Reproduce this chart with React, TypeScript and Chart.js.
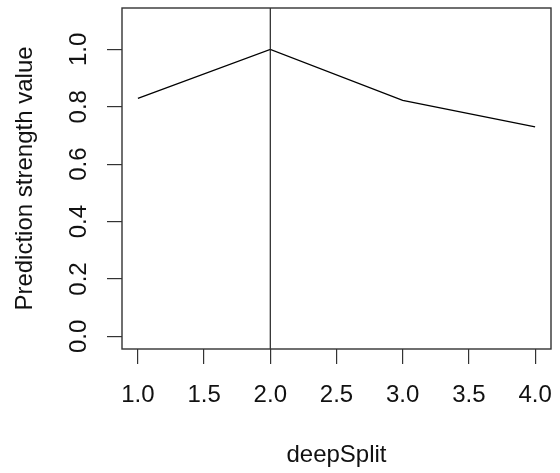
import React, { useEffect, useRef } from "react";
import { Chart, registerables } from "chart.js";

Chart.register(...registerables);

const xValues = [1, 2, 3, 4];
const strengthValues = [0.829, 1.0, 0.822, 0.73];
const xTicks = [1.0, 1.5, 2.0, 2.5, 3.0, 3.5, 4.0];
const yTicks = [0.0, 0.2, 0.4, 0.6, 0.8, 1.0];
const vlineX = 2;
const xTitle = "deepSplit";
const yTitle = "Prediction strength value";

const FONT = '24px "Liberation Sans", Arial, sans-serif';
const AXIS_COLOR = "#333333";

const overlayPlugin = {
  id: "rOverlay",
  afterDraw(chart: any) {
    const { ctx, chartArea } = chart;
    const xs = chart.scales.x;
    const ys = chart.scales.y;
    ctx.save();
    // vertical reference line
    const vx = xs.getPixelForValue(vlineX);
    ctx.strokeStyle = "#222222";
    ctx.lineWidth = 1.2;
    ctx.beginPath();
    ctx.moveTo(vx, chartArea.top);
    ctx.lineTo(vx, chartArea.bottom);
    ctx.stroke();
    // box
    ctx.strokeStyle = AXIS_COLOR;
    ctx.lineWidth = 1.4;
    ctx.strokeRect(chartArea.left, chartArea.top, chartArea.right - chartArea.left, chartArea.bottom - chartArea.top);
    // labels
    ctx.fillStyle = "#111111";
    ctx.font = FONT;
    ctx.textAlign = "center";
    ctx.textBaseline = "alphabetic";
    xs.ticks.forEach((t: any) => {
      ctx.fillText(t.value.toFixed(1), xs.getPixelForValue(t.value), chartArea.bottom + 53);
    });
    ys.ticks.forEach((t: any) => {
      const py = ys.getPixelForValue(t.value);
      ctx.save();
      ctx.translate(chartArea.left - 36, py);
      ctx.rotate(-Math.PI / 2);
      ctx.fillText(t.value.toFixed(1), 0, 0);
      ctx.restore();
    });
    ctx.fillText(xTitle, (chartArea.left + chartArea.right) / 2, chartArea.bottom + 113);
    ctx.save();
    ctx.translate(32, (chartArea.top + chartArea.bottom) / 2);
    ctx.rotate(-Math.PI / 2);
    ctx.fillText(yTitle, 0, 0);
    ctx.restore();
    ctx.restore();
  },
};

export default function App() {
  const ref = useRef<HTMLCanvasElement | null>(null);
  useEffect(() => {
    if (!ref.current) return;
    const chart = new Chart(ref.current, {
      type: "line",
      data: {
        datasets: [
          {
            data: xValues.map((x, i) => ({ x, y: strengthValues[i] })),
            borderColor: "#000000",
            borderWidth: 1.3,
            pointRadius: 0,
            tension: 0,
            fill: false,
          },
        ],
      },
      options: {
        responsive: false,
        animation: false,
        layout: { padding: { top: 8, right: 9, left: 0, bottom: 0 } },
        plugins: { legend: { display: false }, tooltip: { enabled: false } },
        scales: {
          x: {
            type: "linear",
            min: 0.88,
            max: 4.12,
            afterBuildTicks: (s: any) => {
              s.ticks = xTicks.map((v) => ({ value: v }));
            },
            afterFit: (s: any) => {
              s.height = 124;
            },
            ticks: { display: false },
            grid: { drawOnChartArea: false, drawTicks: true, tickLength: 15, color: AXIS_COLOR, lineWidth: 1.2 },
            border: { display: false },
          },
          y: {
            type: "linear",
            min: -0.044,
            max: 1.144,
            afterBuildTicks: (s: any) => {
              s.ticks = yTicks.map((v) => ({ value: v }));
            },
            afterFit: (s: any) => {
              s.width = 122;
            },
            ticks: { display: false },
            grid: { drawOnChartArea: false, drawTicks: true, tickLength: 15, color: AXIS_COLOR, lineWidth: 1.2 },
            border: { display: false },
          },
        },
      },
      plugins: [overlayPlugin],
    });
    return () => chart.destroy();
  }, []);
  return (
    <div style={{ position: "absolute", left: 0, top: 0, width: 560, height: 473, background: "#fff" }}>
      <canvas ref={ref} width={560} height={473} />
    </div>
  );
}
